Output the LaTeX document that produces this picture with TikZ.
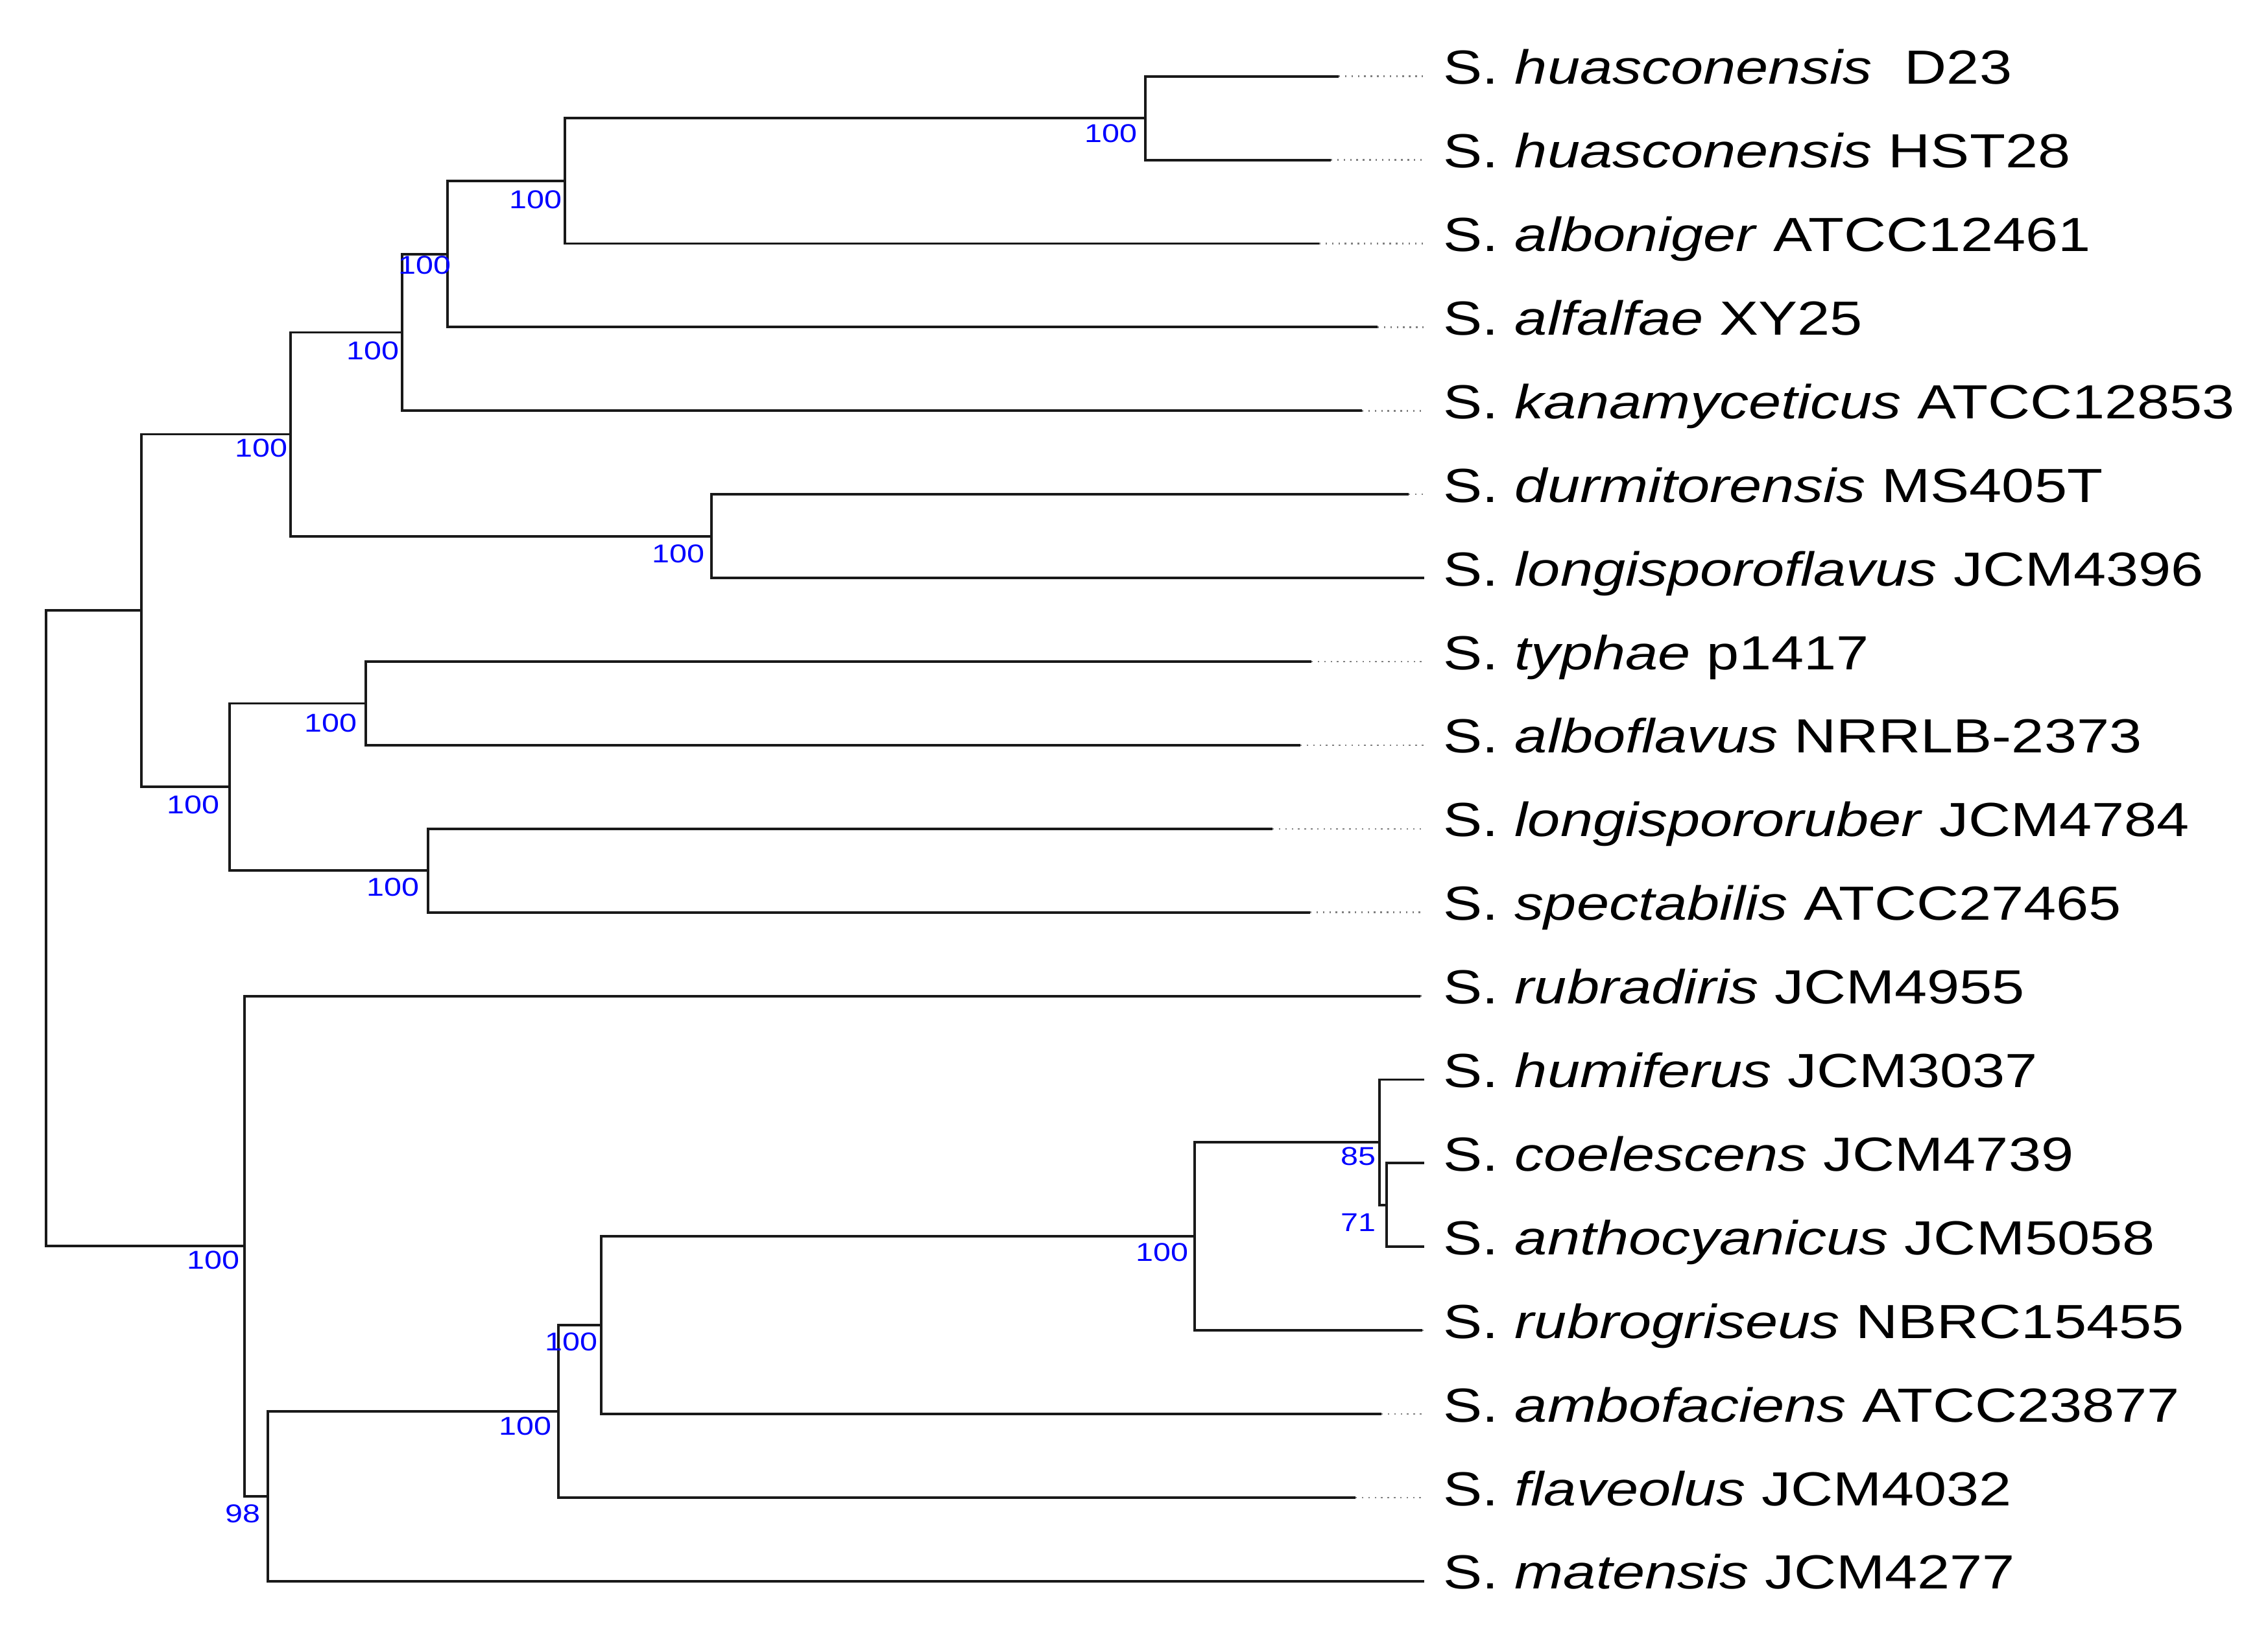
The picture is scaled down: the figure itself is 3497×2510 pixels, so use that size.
\documentclass[tikz,border=0pt]{standalone}
\usepackage{fontspec}
\newfontfamily\treefont[FakeStretch=1.22]{Liberation Sans}
\tikzset{
  branch/.style={line width=1.1pt, black!90},
  tipline/.style={gray, line width=0.7pt, dash pattern=on 0.7pt off 2.1pt},
  leaf/.style={anchor=base west, inner xsep=0.29cm, inner ysep=0pt,
    font=\treefont\fontsize{21}{25}\selectfont},
  boot/.style={anchor=east, inner sep=0pt, text=blue,
    font=\treefont\fontsize{11.3}{13}\selectfont}
}
\begin{document}
\begin{tikzpicture}[x=0.01cm,y=-0.01cm]
\useasboundingbox (0,0) rectangle (3497,2510);
\def\ytop{117.7}
\def\dy{128.9}
\def\xlab{2196}
  % taxa
  \foreach \i/\tip/\sp/\st in {
      1/2064/huasconensis/{\ D23},
      2/2052/huasconensis/HST28,
      3/2034/alboniger/ATCC12461,
      4/2124/alfalfae/XY25,
      5/2100/kanamyceticus/ATCC12853,
      6/2172/durmitorensis/MS405T,
      7/2196/longisporoflavus/JCM4396,
      8/2022/typhae/p1417,
      9/2005/alboflavus/NRRLB-2373,
      10/1962/longispororuber/JCM4784,
      11/2020/spectabilis/ATCC27465,
      12/2190/rubradiris/JCM4955,
      13/2196/humiferus/JCM3037,
      14/2196/coelescens/JCM4739,
      15/2196/anthocyanicus/JCM5058,
      16/2193/rubrogriseus/NBRC15455,
      17/2130/ambofaciens/ATCC23877,
      18/2090/flaveolus/JCM4032,
      19/2196/matensis/JCM4277} {
    \pgfmathsetmacro\y{\ytop+(\i-1)*\dy}
    \coordinate (t\i) at (\tip,\y);
    \coordinate (e\i) at (\xlab,\y);
    \node[leaf, yshift=-0.12cm] (n\i) at (e\i) {S. \textit{\sp} \st};
    \draw[tipline] (t\i) -- (e\i);
  }
  % inner nodes
  \coordinate (R) at (71,1431.4);
  \coordinate (A) at (218,941.4);
  \coordinate (B) at (448,669.5);
  \coordinate (C) at (620,512.5);
  \coordinate (D) at (690,391.6);
  \coordinate (F) at (871,278.8);
  \coordinate (G) at (1766,182.2);
  \coordinate (J) at (1097,826.6);
  \coordinate (I) at (354,1213.4);
  \coordinate (K) at (564,1084.5);
  \coordinate (L) at (660,1342.3);
  \coordinate (H) at (377,1921.3);
  \coordinate (M) at (413,2307);
  \coordinate (N) at (861,2176.1);
  \coordinate (O) at (927,2043.1);
  \coordinate (P) at (1842,1906.2);
  \coordinate (Q) at (2127,1761.2);
  \coordinate (S) at (2138,1857.9);
  \foreach \p/\c in {R/A, R/H, A/B, A/I, B/C, B/J, C/D, C/t5, D/F, D/t4,
      F/G, F/t3, G/t1, G/t2, J/t6, J/t7, I/K, I/L, K/t8, K/t9, L/t10, L/t11,
      H/t12, H/M, M/N, M/t19, N/O, N/t18, O/P, O/t17, P/Q, P/t16,
      Q/t13, Q/S, S/t14, S/t15}
    \draw[branch] (\p) |- (\c);
  % bootstrap values
  \foreach \n/\v/\x/\y in {G/100/1754/206, F/100/867/308, D/100/696/409,
      C/100/616/541, B/100/444/691, J/100/1087/854, K/100/551/1115,
      I/100/339/1241, L/100/647/1368, H/100/370/1943, P/100/1833/1931,
      Q/85/2122/1783, S/71/2122/1885, O/100/922/2069, N/100/851/2199,
      M/98/402/2334}
    \node[boot] (b\n) at (\x,\y) {\v};
\end{tikzpicture}
\end{document}
